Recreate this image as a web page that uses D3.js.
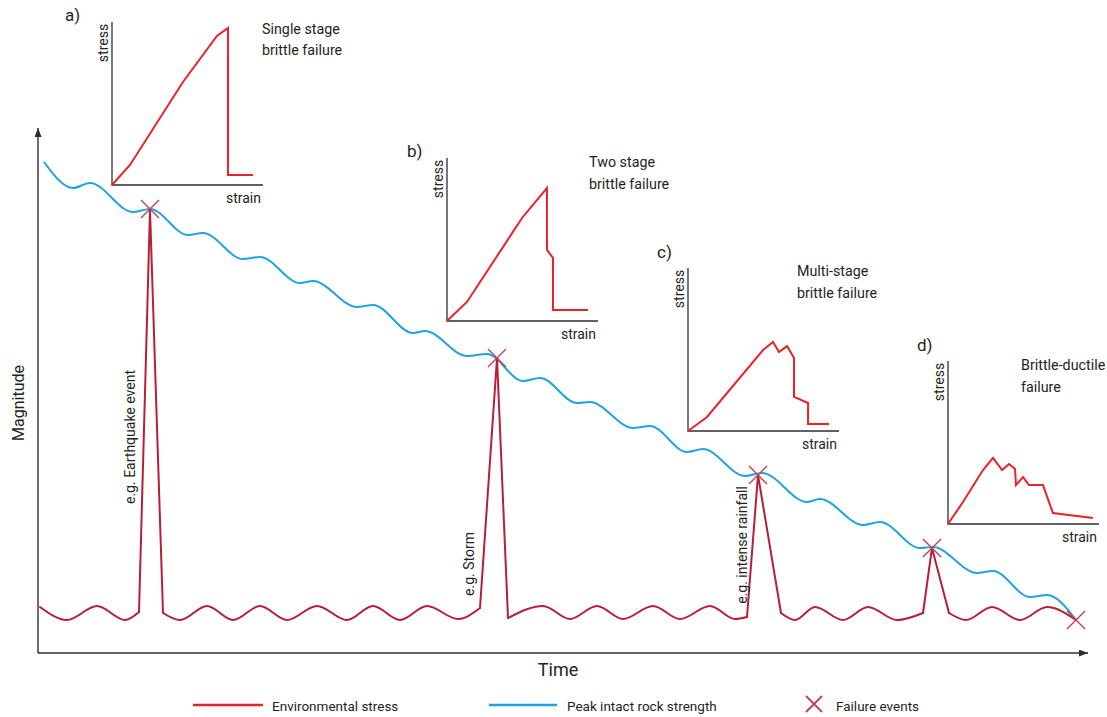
<!DOCTYPE html>
<html>
<head>
<meta charset="utf-8">
<script src="https://cdn.jsdelivr.net/npm/d3@7"></script>
<style>
  body { margin: 0; background: #fff; }
  svg text { font-family: Roboto, "Open Sans", sans-serif; fill: #231f20; }
</style>
</head>
<body>
<svg id="chart" width="1107" height="717"></svg>
<script>
// ---------- data ----------
// Peak intact rock strength: turning points of the wavy decline [time, magnitude]
const strength = [
  [0.6, 98.2], [3.5, 93.0], [5.2, 94.0], [9.5, 88.2], [11.2, 88.8], [15.0, 83.6], [16.5, 84.0],
  [20.5, 78.8], [22.2, 79.2], [26.2, 74.0], [27.5, 74.4], [31.9, 69.2], [33.5, 69.6],
  [37.5, 64.0], [38.7, 64.4], [42.9, 59.4], [44.9, 59.8], [48.5, 54.4], [50.2, 55.0],
  [53.9, 50.0], [55.2, 50.2], [59.5, 45.0], [61.2, 45.4], [64.9, 40.2], [66.5, 40.8],
  [70.7, 35.4], [72.4, 36.0], [76.9, 30.2], [78.2, 30.8], [82.5, 25.6], [84.2, 26.2],
  [88.2, 21.0], [89.5, 21.2], [93.9, 16.0], [95.5, 16.4], [99.2, 11.2], [100.9, 11.6],
  [103.8, 6.6]
];

// Environmental stress: background oscillation, one run between each pair of events
const stressRuns = [
  [[0.2, 9.2], [2.9, 6.6], [5.9, 9.4], [8.7, 6.6], [10.1, 8.2]],
  [[12.5, 8.0], [14.2, 6.6], [16.9, 9.4], [19.5, 6.6], [22.2, 9.4], [24.9, 6.6], [27.9, 9.4],
   [30.9, 6.6], [33.5, 9.4], [36.2, 6.6], [38.9, 9.4], [42.0, 6.8], [44.2, 9.0]],
  [[47.0, 7.0], [50.5, 9.4], [53.2, 6.8], [55.9, 9.4], [58.5, 6.8], [61.5, 9.4], [64.2, 6.8],
   [67.2, 9.4], [69.7, 6.8], [70.9, 7.2]],
  [[74.3, 8.0], [75.7, 6.6], [77.7, 9.2], [80.5, 6.6], [83.0, 9.2], [85.9, 6.6], [88.5, 8.0]],
  [[91.1, 8.0], [92.8, 6.6], [95.4, 9.2], [98.2, 6.6], [100.9, 9.2], [103.8, 6.6]]
];

// Stress events (spike peaks) and their labels
const eventPeaks = [[11.2, 88.6], [45.9, 59.0], [72.0, 35.6], [89.4, 21.0]];
const eventLabels = ["e.g. Earthquake event", "e.g. Storm", "e.g. intense rainfall", ""];

// Failure events (stress meets strength)
const failures = [[11.2, 88.8], [45.9, 59.0], [72.0, 35.6], [89.4, 21.0], [103.8, 6.6]];

// Stress–strain insets [strain, stress], both 0–100
const insetNames = ["a)", "b)", "c)", "d)"];
const insetTitles = [
  ["Single stage", "brittle failure"],
  ["Two stage", "brittle failure"],
  ["Multi-stage", "brittle failure"],
  ["Brittle-ductile", "failure"]
];
const insetCurves = [
  [[0, 0], [11.9, 12.3], [47.0, 63.2], [69.5, 91.4], [76.8, 96.3], [76.8, 6.1], [93.4, 6.1]],
  [[0, 0], [13.2, 11.7], [49.7, 63.2], [66.2, 81.6], [66.2, 43.6], [70.2, 38.7], [70.2, 6.7], [93.4, 6.7]],
  [[0, 0], [12.6, 8.6], [49.7, 49.7], [56.3, 54.6], [60.3, 48.5], [65.6, 52.1], [70.2, 44.8],
   [70.2, 20.9], [79.5, 17.2], [79.5, 4.3], [93.4, 4.3]],
  [[0, 0], [9.9, 13.5], [23.2, 33.1], [29.8, 40.5], [35.8, 33.1], [40.4, 36.8], [44.4, 33.7],
   [45.0, 23.9], [49.7, 28.8], [53.6, 23.9], [62.9, 23.9], [69.5, 6.7], [96.0, 3.7]]
];

const legendItems = ["Environmental stress", "Peak intact rock strength", "Failure events"];

// ---------- styles & layout ----------
const C = {
  stress: "#b81e34",
  strength: "#1fa3e3",
  cross: "#c2414e",
  inset: "#ec2229",
  legendRed: "#e5232b",
  axis: "#2e2e2e"
};

const svg = d3.select("#chart");

const x = d3.scaleLinear().domain([0, 105]).range([38, 1088]);
const y = d3.scaleLinear().domain([0, 105]).range([653, 128]);

// arrowhead marker
svg.append("defs").append("marker")
  .attr("id", "arrow")
  .attr("viewBox", "0 0 9 7")
  .attr("refX", 9).attr("refY", 3.5)
  .attr("markerWidth", 9).attr("markerHeight", 7)
  .attr("markerUnits", "userSpaceOnUse")
  .attr("orient", "auto")
  .append("path").attr("d", "M0,0 L9,3.5 L0,7 Z").attr("fill", C.axis);

// main axes
svg.append("line")
  .attr("x1", x(0)).attr("y1", y(0)).attr("x2", x(105)).attr("y2", y(0))
  .attr("stroke", C.axis).attr("stroke-width", 1.4).attr("marker-end", "url(#arrow)");
svg.append("line")
  .attr("x1", x(0)).attr("y1", y(0)).attr("x2", x(0)).attr("y2", y(105))
  .attr("stroke", C.axis).attr("stroke-width", 1.4).attr("marker-end", "url(#arrow)");

svg.append("text").text("Time")
  .attr("x", 558).attr("y", 676).attr("text-anchor", "middle")
  .style("font-size", "18px");
svg.append("text").text("Magnitude")
  .attr("transform", "translate(24,403) rotate(-90)").attr("text-anchor", "middle")
  .style("font-size", "16px");

// peak intact rock strength
const smooth = d3.line().x(d => x(d[0])).y(d => y(d[1])).curve(d3.curveMonotoneX);
const straight = d3.line().x(d => x(d[0])).y(d => y(d[1]));

svg.append("path").datum(strength)
  .attr("d", smooth).attr("fill", "none")
  .attr("stroke", C.strength).attr("stroke-width", 2);

// environmental stress: oscillation runs + sharp spikes
const gStress = svg.append("g").attr("fill", "none").attr("stroke", C.stress)
  .attr("stroke-width", 2).attr("stroke-linejoin", "round").attr("stroke-linecap", "round");
stressRuns.forEach(run => gStress.append("path").datum(run).attr("d", smooth));
eventPeaks.forEach((p, i) => {
  const a = stressRuns[i][stressRuns[i].length - 1];
  const b = stressRuns[i + 1][0];
  gStress.append("path").datum([a, p, b]).attr("d", straight);
});

// event labels, running up beside the rising leg of each spike
const labelPos = [[135, 437], [474, 564], [747, 545]];
eventLabels.forEach((t, i) => {
  if (!t) return;
  svg.append("text").text(t)
    .attr("transform", `translate(${labelPos[i][0]},${labelPos[i][1]}) rotate(-90)`)
    .attr("text-anchor", "middle").style("font-size", "14px");
});

// failure crosses
const crossPath = (cx, cy, r) => `M${cx - r},${cy - r}L${cx + r},${cy + r}M${cx - r},${cy + r}L${cx + r},${cy - r}`;
svg.append("g").selectAll("path").data(failures).join("path")
  .attr("d", d => crossPath(x(d[0]), y(d[1]), 9))
  .attr("stroke", C.cross).attr("stroke-width", 1.4).attr("fill", "none");

// ---------- insets ----------
const insetOrigin = [[112, 185], [447, 321], [688, 431], [948, 524]];
const insetW = 151, insetH = 163;
const tagOffset = [[-47, -164], [-40, -164], [-31, -173], [-31, -173]];
const titleOffset = [[150, -151.5], [142, -154], [109, -155], [73, -154]];

insetCurves.forEach((curve, i) => {
  const [ox, oy] = insetOrigin[i];
  const g = svg.append("g").attr("transform", `translate(${ox},${oy})`);
  const sx = d3.scaleLinear().domain([0, 100]).range([0, insetW]);
  const sy = d3.scaleLinear().domain([0, 100]).range([0, -insetH]);

  g.append("path").attr("d", `M${sx(0)},${sy(100)}V${sy(0)}H${sx(100)}`)
    .attr("fill", "none").attr("stroke", C.axis).attr("stroke-width", 1.3);

  g.append("path").datum(curve)
    .attr("d", d3.line().x(d => sx(d[0])).y(d => sy(d[1])))
    .attr("fill", "none").attr("stroke", C.inset).attr("stroke-width", 2)
    .attr("stroke-linejoin", "miter");

  g.append("text").text(insetNames[i])
    .attr("x", tagOffset[i][0]).attr("y", tagOffset[i][1]).style("font-size", "17px");
  g.append("text").text("stress")
    .attr("transform", `translate(-4,-142) rotate(-90)`).attr("text-anchor", "middle")
    .style("font-size", "14px");
  g.append("text").text("strain")
    .attr("x", 149).attr("y", 18).attr("text-anchor", "end").style("font-size", "14px");
  insetTitles[i].forEach((line, k) => {
    g.append("text").text(line)
      .attr("x", titleOffset[i][0]).attr("y", titleOffset[i][1] + k * 21.5)
      .style("font-size", "14.3px");
  });
});

// ---------- legend ----------
const lg = svg.append("g");
lg.append("line").attr("x1", 193).attr("x2", 263).attr("y1", 705).attr("y2", 705)
  .attr("stroke", C.legendRed).attr("stroke-width", 2.5);
lg.append("text").text(legendItems[0]).attr("x", 272).attr("y", 711).style("font-size", "13.5px");
lg.append("line").attr("x1", 489).attr("x2", 557).attr("y1", 705).attr("y2", 705)
  .attr("stroke", C.strength).attr("stroke-width", 2.5);
lg.append("text").text(legendItems[1]).attr("x", 567).attr("y", 711).style("font-size", "13.5px");
lg.append("path").attr("d", crossPath(814, 704, 8))
  .attr("stroke", C.cross).attr("stroke-width", 1.8).attr("fill", "none");
lg.append("text").text(legendItems[2]).attr("x", 836).attr("y", 711).style("font-size", "13.5px");
</script>
</body>
</html>
